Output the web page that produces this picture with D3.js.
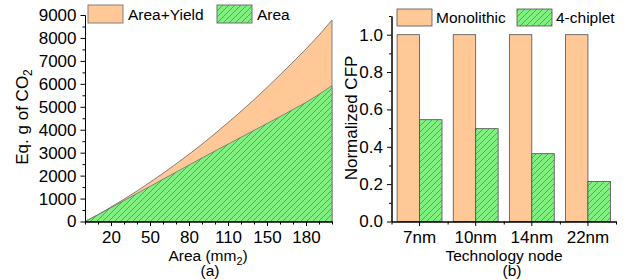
<!DOCTYPE html>
<html><head><meta charset="utf-8">
<script src="https://cdn.jsdelivr.net/npm/d3@7"></script>
<style>body{margin:0;background:#fff} text{font-family:"Liberation Sans",Arial,sans-serif;fill:#000}</style>
</head><body><svg id="c" width="629" height="280"></svg>
<script>
// ---- data (a) ----
const areaCats = [5,10,20,30,40,50,60,70,80,90,100,110,125,140,150,160,170,180,190,200];
const areaTickLabels = [20,50,80,110,150,180];
const areaYield = [0,300,630,970,1330,1710,2100,2510,2930,3370,3830,4310,4800,5310,5840,6390,6950,7520,8120,8780];
const areaOnly  = [0,290,600,910,1220,1530,1840,2150,2460,2770,3070,3370,3670,3970,4270,4570,4880,5190,5540,5920];
const areaYTicks = [0,1000,2000,3000,4000,5000,6000,7000,8000,9000];
const seriesA = ["Area+Yield","Area"];
// ---- data (b) ----
const nodes = ["7nm","10nm","14nm","22nm"];
const monolithic = [1.0,1.0,1.0,1.0];
const chiplet4 = [0.545,0.497,0.363,0.214];
const cfpTicks = [0.0,0.2,0.4,0.6,0.8,1.0];
const seriesB = ["Monolithic","4-chiplet"];

const ORANGE = "#FFC896", GREEN = "#80F080";
const svg = d3.select("#c");
const defs = svg.append("defs");
const pat = defs.append("pattern").attr("id","hatch").attr("patternUnits","userSpaceOnUse")
  .attr("width",6).attr("height",6);
pat.append("rect").attr("width",6).attr("height",6).attr("fill",GREEN);
pat.append("path").attr("d","M-1,1 l2,-2 M0,6 l6,-6 M5,7 l2,-2")
  .attr("stroke","#3C8C3C").attr("stroke-width",0.7);

const TF = 17, LF = 15.5, YF = 17;
const XT_Y = 260.5, SUB_Y = 276;

// ================= chart (a) =================
const xA = d3.scalePoint().domain(areaCats).range([85,332]);
const yA = d3.scaleLinear().domain([0,9000]).range([221.5,15]);

const gA = svg.append("g");
const areaGen = vals => d3.area().x((d,i)=>xA(areaCats[i])).y0(yA(0)).y1(d=>yA(d))(vals);
gA.append("path").attr("d",areaGen(areaYield)).attr("fill",ORANGE).attr("stroke","#808080").attr("stroke-width",1);
gA.append("path").attr("d",areaGen(areaOnly)).attr("fill","url(#hatch)").attr("stroke","#707070").attr("stroke-width",0.8);

// y axis
const yMinorA = d3.range(500,9000,1000);
gA.append("g").attr("transform","translate(85,0)")
  .call(d3.axisLeft(yA).tickValues(yMinorA).tickSize(2.5).tickFormat("").tickSizeOuter(0));
const yaxA = gA.append("g").attr("transform","translate(85,0)")
  .call(d3.axisLeft(yA).tickValues(areaYTicks).tickSize(4.5).tickPadding(4).tickFormat(d3.format("d")).tickSizeOuter(0));
yaxA.selectAll("text").attr("font-size",TF).attr("font-family",null);
// x axis
gA.append("g").attr("transform","translate(0,221.5)")
  .call(d3.axisBottom(xA).tickValues(areaCats.filter(d=>!areaTickLabels.includes(d))).tickSize(3).tickFormat("").tickSizeOuter(0));
const xaxA = gA.append("g").attr("transform","translate(0,221.5)")
  .call(d3.axisBottom(xA).tickValues(areaTickLabels).tickSize(4.5).tickPadding(4.5).tickSizeOuter(0));
xaxA.selectAll("text").attr("font-size",TF).attr("font-family",null);
svg.selectAll(".domain").attr("stroke","#000");

// titles
const tA = gA.append("text").attr("transform","translate(28,117) rotate(-90)").attr("text-anchor","middle").attr("font-size",YF);
tA.append("tspan").text("Eq. g of CO");
tA.append("tspan").text("2").attr("font-size",YF*0.7).attr("dy",4);
const xtA = gA.append("text").attr("x",208).attr("y",XT_Y).attr("text-anchor","middle").attr("font-size",LF);
xtA.append("tspan").text("Area (mm");
xtA.append("tspan").text("2").attr("font-size",LF*0.7).attr("dy",4);
xtA.append("tspan").text(")").attr("dy",-4);
gA.append("text").attr("x",210).attr("y",SUB_Y).attr("text-anchor","middle").attr("font-size",LF).text("(a)");

// legend (a)
const legA = [{x:88,fill:ORANGE,stroke:"#808080"},{x:217,fill:"url(#hatch)",stroke:"#707070"}];
legA.forEach((l,i)=>{
  gA.append("rect").attr("x",l.x).attr("y",5).attr("width",35).attr("height",18).attr("fill",l.fill).attr("stroke",l.stroke);
  gA.append("text").attr("x",l.x+40).attr("y",20).attr("font-size",LF).text(seriesA[i]);
});

// ================= chart (b) =================
const xB = d3.scaleBand().domain(nodes).range([391.5,616]).paddingInner(0).paddingOuter(0);
const inner = d3.scaleBand().domain([0,1]).range([0,xB.bandwidth()]).paddingOuter(0.25).paddingInner(0);
const yB = d3.scaleLinear().domain([0,1.1]).range([221.5,16]);
const gB = svg.append("g");

nodes.forEach((n,i)=>{
  [monolithic[i],chiplet4[i]].forEach((v,j)=>{
    gB.append("rect").attr("x",xB(n)+inner(j)).attr("y",yB(v)).attr("width",inner.bandwidth())
      .attr("height",yB(0)-yB(v)).attr("fill",j?"url(#hatch)":ORANGE).attr("stroke","#505050").attr("stroke-width",0.8);
  });
});

gB.append("g").attr("transform","translate(391.5,0)")
  .call(d3.axisLeft(yB).tickValues(d3.range(0.1,1.15,0.2)).tickSize(2.5).tickFormat("").tickSizeOuter(0));
const yaxB = gB.append("g").attr("transform","translate(391.5,0)")
  .call(d3.axisLeft(yB).tickValues(cfpTicks).tickSize(4.5).tickPadding(4).tickFormat(d3.format(".1f")).tickSizeOuter(0));
yaxB.selectAll("text").attr("font-size",TF).attr("font-family",null);
const xBedge = d3.scaleLinear().domain([0,4]).range([391.5,616]);
gB.append("g").attr("transform","translate(0,221.5)")
  .call(d3.axisBottom(xBedge).tickValues([0,1,2,3,4]).tickSize(3).tickFormat("").tickSizeOuter(0));
const xaxB = gB.append("g").attr("transform","translate(0,221.5)")
  .call(d3.axisBottom(xB).tickSize(4.5).tickPadding(4.5).tickSizeOuter(0));
xaxB.selectAll("text").attr("font-size",TF).attr("font-family",null);
svg.selectAll(".domain").attr("stroke","#000");

gB.append("text").attr("transform","translate(357,118) rotate(-90)").attr("text-anchor","middle").attr("font-size",YF).text("Normalized CFP");
gB.append("text").attr("x",504).attr("y",XT_Y).attr("text-anchor","middle").attr("font-size",LF).text("Technology node");
gB.append("text").attr("x",512).attr("y",SUB_Y).attr("text-anchor","middle").attr("font-size",LF).text("(b)");

const legB = [{x:397,fill:ORANGE},{x:517,fill:"url(#hatch)"}];
legB.forEach((l,i)=>{
  gB.append("rect").attr("x",l.x).attr("y",9).attr("width",35).attr("height",17).attr("fill",l.fill).attr("stroke","#505050").attr("stroke-width",0.8);
  gB.append("text").attr("x",l.x+39).attr("y",23).attr("font-size",LF).text(seriesB[i]);
});
</script></body></html>
